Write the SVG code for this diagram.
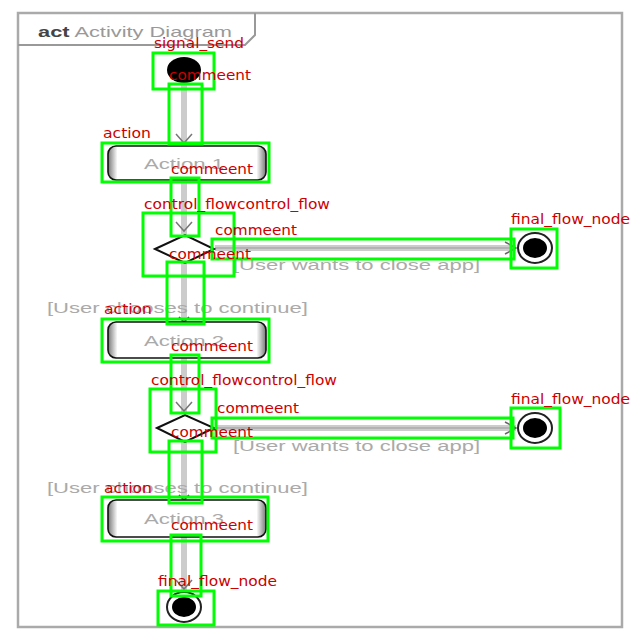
<svg xmlns="http://www.w3.org/2000/svg" width="640" height="640" viewBox="0 0 640 640">
  <defs>
    <linearGradient id="actFill" x1="0" y1="0" x2="1" y2="0">
      <stop offset="0" stop-color="#777"/>
      <stop offset="0.06" stop-color="#fff"/>
      <stop offset="0.94" stop-color="#fff"/>
      <stop offset="1" stop-color="#777"/>
    </linearGradient>
    <marker id="openArrow" markerWidth="14" markerHeight="14" refX="12" refY="7" orient="auto" markerUnits="userSpaceOnUse">
      <path d="M1,1 L12,7 L1,13" fill="none" stroke="#666" stroke-width="1.5"/>
    </marker>
  </defs>
  <style>
    .frame { fill: #fff; stroke: #aaa; stroke-width: 2.5; }
    .tab { fill: none; stroke: #999; stroke-width: 2; }
    .title { font-family: "Liberation Sans", Arial, sans-serif; font-size: 15px; fill: #999; }
    .title-kw { font-weight: bold; fill: #444; }
    .flow { fill: none; stroke: #ccc; stroke-width: 6; }
    .flow-core { fill: none; stroke: #999; stroke-width: 1; }
    .action { fill: url(#actFill); stroke: #111; stroke-width: 1.6; }
    .action-label { font-family: "Liberation Sans", Arial, sans-serif; font-size: 15px; fill: #aaa; text-anchor: middle; }
    .guard { font-family: "Liberation Sans", Arial, sans-serif; font-size: 14px; fill: #aaa; }
    .decision { fill: #fff; stroke: #111; stroke-width: 2; }
    .final-outer { fill: #fff; stroke: #222; stroke-width: 2; }
    .solid { fill: #000; }
    .box { fill: none; stroke: #00ff00; stroke-width: 3; }
    .tag { font-family: "DejaVu Sans", "Liberation Sans", sans-serif; font-size: 14px; fill: #cc0000; }
  </style>

  <!-- activity frame with its name tab -->
  <g id="frame">
    <rect class="frame" x="18" y="13" width="604" height="614"/>
    <path class="tab" d="M18,45 L245,45 L255,35 L255,13"/>
    <text class="title" x="38" y="37" textLength="194" lengthAdjust="spacingAndGlyphs"><tspan class="title-kw">act</tspan> Activity Diagram</text>
  </g>

  <!-- control flows -->
  <g id="connectors">
    <line class="flow" x1="184" y1="82" x2="184" y2="146"/>
    <line class="flow" x1="184" y1="180" x2="184" y2="234"/>
    <line class="flow" x1="184" y1="262" x2="184" y2="322"/>
    <line class="flow" x1="184" y1="358" x2="184" y2="414"/>
    <line class="flow" x1="184" y1="442" x2="184" y2="500"/>
    <line class="flow" x1="184" y1="537" x2="184" y2="592"/>
    <line class="flow" x1="215" y1="248" x2="516" y2="248"/>
    <line class="flow" x1="215" y1="428" x2="516" y2="428"/>
    <line class="flow-core" x1="215" y1="248" x2="516" y2="248" marker-end="url(#openArrow)"/>
    <line class="flow-core" x1="215" y1="428" x2="516" y2="428" marker-end="url(#openArrow)"/>
    <path d="M176,134 L184,143 L192,134" fill="none" stroke="#777" stroke-width="1.5"/>
    <path d="M176,222 L184,231 L192,222" fill="none" stroke="#777" stroke-width="1.5"/>
    <path d="M179,317 L184,322 L189,317" fill="none" stroke="#333" stroke-width="1.5"/>
    <path d="M176,402 L184,411 L192,402" fill="none" stroke="#777" stroke-width="1.5"/>
    <path d="M179,495 L184,500 L189,495" fill="none" stroke="#333" stroke-width="1.5"/>
    <path d="M176,580 L184,589 L192,580" fill="none" stroke="#777" stroke-width="1.5"/>
    <text class="guard" x="233" y="270" textLength="247" lengthAdjust="spacingAndGlyphs">[User wants to close app]</text>
    <text class="guard" x="47" y="313" textLength="261" lengthAdjust="spacingAndGlyphs">[User chooses to continue]</text>
    <text class="guard" x="233" y="451" textLength="247" lengthAdjust="spacingAndGlyphs">[User wants to close app]</text>
    <text class="guard" x="47" y="493" textLength="261" lengthAdjust="spacingAndGlyphs">[User chooses to continue]</text>
  </g>

  <!-- activity nodes -->
  <g id="initial">
    <ellipse class="solid" cx="184" cy="70" rx="17" ry="13"/>
  </g>
  <g id="action1">
    <rect class="action" x="108" y="146" width="158" height="34" rx="8"/>
    <text class="action-label" x="184" y="169" textLength="80" lengthAdjust="spacingAndGlyphs">Action 1</text>
  </g>
  <g id="decision1">
    <polygon class="decision" points="155,249 185,235 214,249 185,263"/>
  </g>
  <g id="final1">
    <ellipse class="final-outer" cx="535" cy="248" rx="17" ry="15"/>
    <ellipse class="solid" cx="535" cy="248" rx="12" ry="10"/>
  </g>
  <g id="action2">
    <rect class="action" x="108" y="322" width="158" height="36" rx="8"/>
    <text class="action-label" x="184" y="346" textLength="80" lengthAdjust="spacingAndGlyphs">Action 2</text>
  </g>
  <g id="decision2">
    <polygon class="decision" points="157,428 185,415 214,428 185,442"/>
  </g>
  <g id="final2">
    <ellipse class="final-outer" cx="535" cy="428" rx="17" ry="15"/>
    <ellipse class="solid" cx="535" cy="428" rx="12" ry="10"/>
  </g>
  <g id="action3">
    <rect class="action" x="108" y="500" width="158" height="37" rx="8"/>
    <text class="action-label" x="184" y="524" textLength="80" lengthAdjust="spacingAndGlyphs">Action 3</text>
  </g>
  <g id="final3">
    <ellipse class="final-outer" cx="184" cy="607" rx="17" ry="15"/>
    <ellipse class="solid" cx="184" cy="607" rx="12" ry="10"/>
  </g>

  <!-- annotation boxes and tags -->
  <g id="annotations">
    <rect class="box" x="153" y="53" width="61" height="36"/>
    <text class="tag" x="154" y="48" textLength="90" lengthAdjust="spacingAndGlyphs">signal_send</text>
    <rect class="box" x="169" y="84" width="33" height="60"/>
    <text class="tag" x="169" y="80" textLength="82" lengthAdjust="spacingAndGlyphs">commeent</text>
    <rect class="box" x="102" y="143" width="167" height="39"/>
    <text class="tag" x="103" y="138" textLength="48" lengthAdjust="spacingAndGlyphs">action</text>
    <rect class="box" x="171" y="178" width="28" height="58"/>
    <text class="tag" x="171" y="174" textLength="82" lengthAdjust="spacingAndGlyphs">commeent</text>
    <rect class="box" x="143" y="213" width="91" height="63"/>
    <text class="tag" x="144" y="209" textLength="186" lengthAdjust="spacingAndGlyphs">control_flowcontrol_flow</text>
    <rect class="box" x="212" y="239" width="302" height="20"/>
    <text class="tag" x="215" y="235" textLength="82" lengthAdjust="spacingAndGlyphs">commeent</text>
    <rect class="box" x="511" y="229" width="46" height="39"/>
    <text class="tag" x="511" y="224" textLength="119" lengthAdjust="spacingAndGlyphs">final_flow_node</text>
    <rect class="box" x="167" y="262" width="37" height="62"/>
    <text class="tag" x="169" y="259" textLength="82" lengthAdjust="spacingAndGlyphs">commeent</text>
    <rect class="box" x="102" y="319" width="167" height="43"/>
    <text class="tag" x="104" y="314" textLength="48" lengthAdjust="spacingAndGlyphs">action</text>
    <rect class="box" x="171" y="355" width="28" height="58"/>
    <text class="tag" x="171" y="351" textLength="82" lengthAdjust="spacingAndGlyphs">commeent</text>
    <rect class="box" x="150" y="389" width="66" height="63"/>
    <text class="tag" x="151" y="385" textLength="186" lengthAdjust="spacingAndGlyphs">control_flowcontrol_flow</text>
    <rect class="box" x="212" y="418" width="301" height="20"/>
    <text class="tag" x="217" y="413" textLength="82" lengthAdjust="spacingAndGlyphs">commeent</text>
    <rect class="box" x="511" y="408" width="49" height="40"/>
    <text class="tag" x="511" y="404" textLength="119" lengthAdjust="spacingAndGlyphs">final_flow_node</text>
    <rect class="box" x="169" y="441" width="33" height="62"/>
    <text class="tag" x="171" y="437" textLength="82" lengthAdjust="spacingAndGlyphs">commeent</text>
    <rect class="box" x="102" y="497" width="166" height="44"/>
    <text class="tag" x="104" y="493" textLength="48" lengthAdjust="spacingAndGlyphs">action</text>
    <rect class="box" x="171" y="535" width="30" height="61"/>
    <text class="tag" x="171" y="530" textLength="82" lengthAdjust="spacingAndGlyphs">commeent</text>
    <rect class="box" x="158" y="591" width="56" height="34"/>
    <text class="tag" x="158" y="586" textLength="119" lengthAdjust="spacingAndGlyphs">final_flow_node</text>
  </g>
</svg>
